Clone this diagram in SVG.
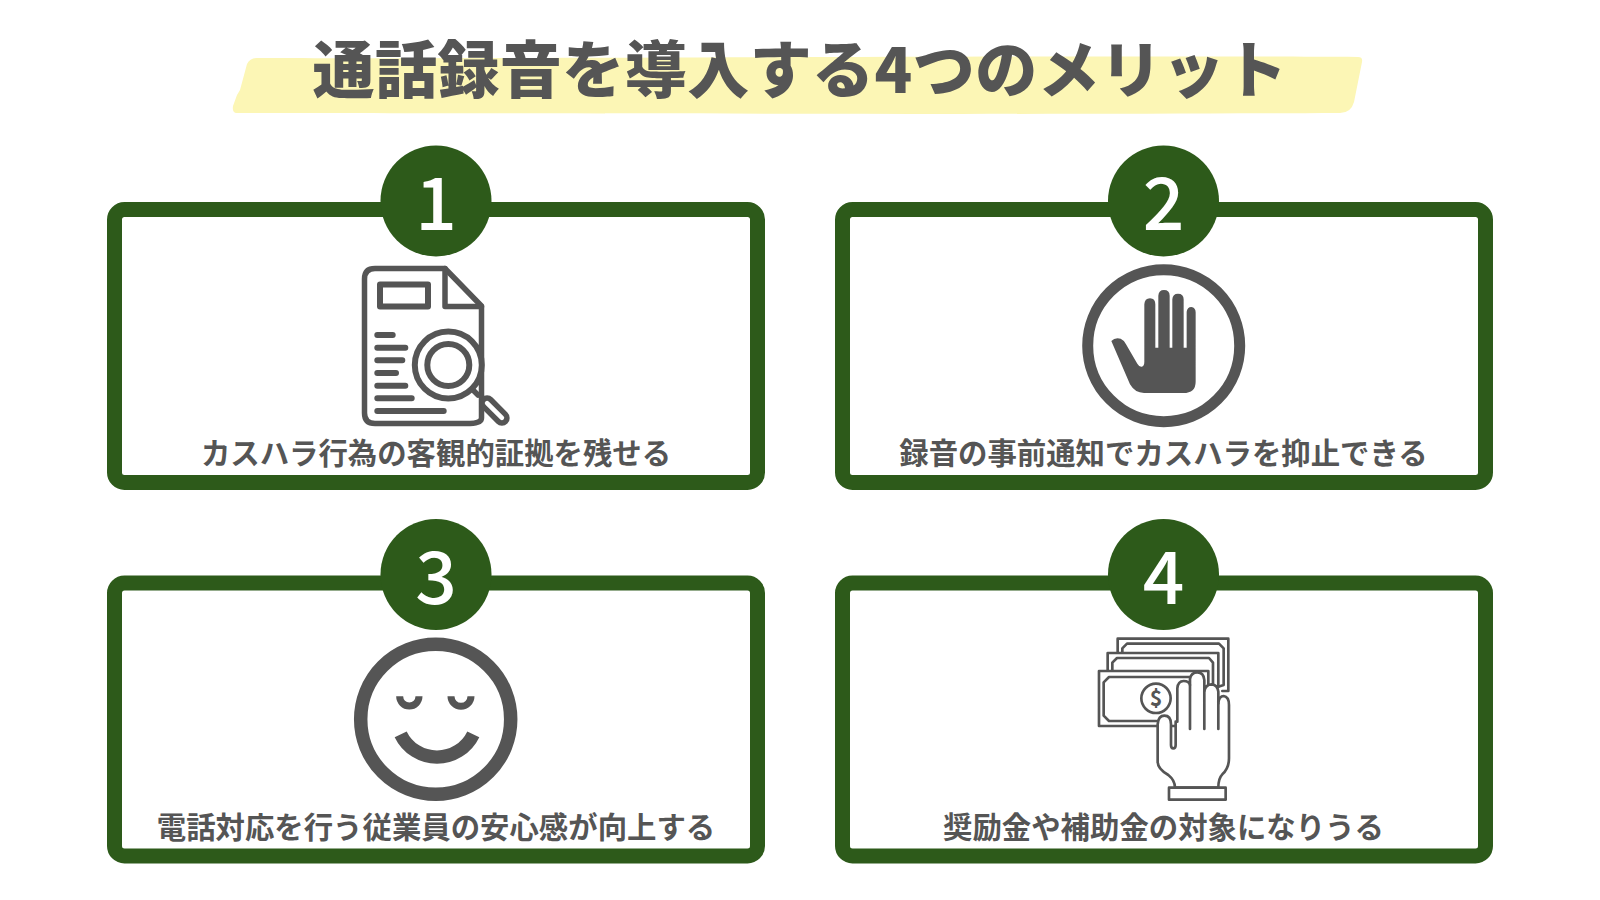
<svg xmlns="http://www.w3.org/2000/svg" width="1600" height="900" viewBox="0 0 1600 900">
<style>
.card{fill:#fff;stroke:#2d5a1a;stroke-width:15}
.badge{fill:#2d5a1a}
.num{font-family:"Noto Sans CJK JP",sans-serif;font-size:73px;font-weight:500;fill:#fff;text-anchor:middle}
.lbl{font-family:"Noto Sans CJK JP",sans-serif;font-size:29.400px;font-weight:700;fill:#555;text-anchor:middle}
.title{font-family:"Noto Sans CJK JP",sans-serif;font-size:62px;font-weight:900;fill:#555;text-anchor:middle;letter-spacing:.45px}
.ic{fill:none;stroke:#555;stroke-linecap:round;stroke-linejoin:round}
</style>
<rect width="1600" height="900" fill="#fff"/>
<g id="title">
<path d="M257 58 C500 59 1100 55 1358 57 Q1363 57 1362 62 L1354 102 Q1351 113 1340 113 C1000 115 500 113 236 113 Q232 112 233 106 L237 95 L240 90 L247 64 Q250 58 257 58Z" fill="#fcf6b5"/>
<text class="title" x="800" y="93">通話録音を導入する4つのメリット</text>
</g>
<g id="node1">
<rect class="card" x="114.500" y="209.500" width="643" height="273" rx="10"/>
<circle class="badge" cx="436" cy="201" r="55.500"/>
<text class="num" x="436" y="230">1</text>
<g id="icon1">
<path class="ic" stroke-width="5.500" d="M375 268.500 H445 L481.500 306 V418 Q481.500 423 470 423.500 H375 Q364.500 423.500 364.500 413 V279 Q364.500 268.500 375 268.500Z"/>
<path class="ic" stroke-width="5.500" d="M445 268.500 V306.500 H481.500"/>
<rect class="ic" x="380" y="284.500" width="48" height="22" stroke-width="6"/>
<path class="ic" stroke-width="6" d="M377.300 335H392.700M377.300 347.700H405.300M377.300 360.300H402.300M377.300 373H396M377.300 385.700H405.300M377.300 398.300H411.700M377.300 411H443.700"/>
<circle class="ic" cx="448.300" cy="365" r="33.500" stroke-width="6" style="fill:#fff"/>
<circle class="ic" cx="448.300" cy="365" r="21" stroke-width="6"/>
<path class="ic" stroke-width="5.500" d="M472 389 L478 395"/>
<rect class="ic" x="479" y="405.500" width="31" height="10" rx="5" stroke-width="5.500" style="fill:#fff" transform="rotate(45 494.500 410.500)"/>
</g>
<text class="lbl" x="436" y="464">カスハラ行為の客観的証拠を残せる</text>
</g>
<g id="node2">
<rect class="card" x="842.500" y="209.500" width="643" height="273" rx="10"/>
<circle class="badge" cx="1163.500" cy="201" r="55.500"/>
<text class="num" x="1163.500" y="230">2</text>
<g id="icon2">
<circle class="ic" cx="1163.700" cy="345.700" r="76" stroke-width="11"/>
<path transform="translate(1070 255) scale(.3333)" fill="#555" d="M124 258 Q135 246 152 251 Q162 255 168 268 L202 326 Q208 336 215 335 Q223 333 223 320 V148 Q224 130 240 130 Q256 130 256 148 V278 H265 V122 Q266 105 282 105 Q299 105 299 122 V278 H307 V133 Q308 116 324 116 Q341 116 341 133 V278 H350 V170 Q352 156 364 156 Q377 158 377 172 V380 Q377 414 340 414 H222 Q195 414 180 388 L124 258Z"/>
</g>
<text class="lbl" x="1163.500" y="464">録音の事前通知でカスハラを抑止できる</text>
</g>
<g id="node3">
<rect class="card" x="114.500" y="583" width="643" height="273" rx="10"/>
<circle class="badge" cx="436" cy="574.500" r="55.500"/>
<text class="num" x="436" y="603.500">3</text>
<g id="icon3">
<circle class="ic" cx="435.700" cy="719.300" r="75" stroke-width="13.500"/>
<g transform="translate(340 630) scale(.3333)" fill="none" stroke="#555">
<path stroke-width="21" d="M179 199 A29 29 0 0 0 237 199"/>
<path stroke-width="21" d="M333 199 A29 29 0 0 0 393 199"/>
<path stroke-width="40" d="M182 313 A121 121 0 0 0 400 313"/>
</g>
</g>
<text class="lbl" x="436" y="838">電話対応を行う従業員の安心感が向上する</text>
</g>
<g id="node4">
<rect class="card" x="842.500" y="583" width="643" height="273" rx="10"/>
<circle class="badge" cx="1163.500" cy="574.500" r="55.500"/>
<text class="num" x="1163.500" y="603.500">4</text>
<g id="icon4" transform="translate(1085 625) scale(.3333)">
<g fill="none" stroke="#555" stroke-width="8" stroke-linejoin="round" stroke-linecap="round">
<path fill="#fff" d="M98 83 V41 H430 V198 H412"/>
<path d="M112 83 V70 L126 56 H402 L416 70 V180 L400 185"/>
<path fill="#fff" d="M68 138 V84 H400 V185 H370"/>
<path d="M82 138 V113 L96 99 H372 L384 113 V175"/>
<path fill="#fff" d="M42 138 H370 V250 L270 303 H42Z"/>
<path d="M214 288 H72 L56 272 V172 L72 156 H340"/>
<circle cx="213" cy="220" r="44"/>
<path fill="#fff" stroke-linecap="butt" d="M218 410 V298 Q220 272 238 272 Q258 272 258 298 V360 Q258 370 265 370 Q272 370 272 360 V290 H277 V190 Q279 168 296 168 Q312 168 315 180 V162 Q318 142 337 142 Q356 142 358 165 V198 Q362 178 380 178 Q398 180 400 200 V235 Q402 213 416 213 Q432 215 432 240 V400 Q432 430 412 448 Q400 460 400 488 H270 Q270 466 250 450 Q218 432 218 410Z"/>
<path d="M315 180 V312 M358 198 V312 M400 235 V312"/>
<rect fill="#fff" x="252" y="488" width="170" height="36"/>
</g>
<text x="213" y="243" font-family="Noto Sans CJK JP,sans-serif" font-size="64" font-weight="700" fill="#555" text-anchor="middle">$</text>
</g>
<text class="lbl" x="1163.500" y="838">奨励金や補助金の対象になりうる</text>
</g>
</svg>
